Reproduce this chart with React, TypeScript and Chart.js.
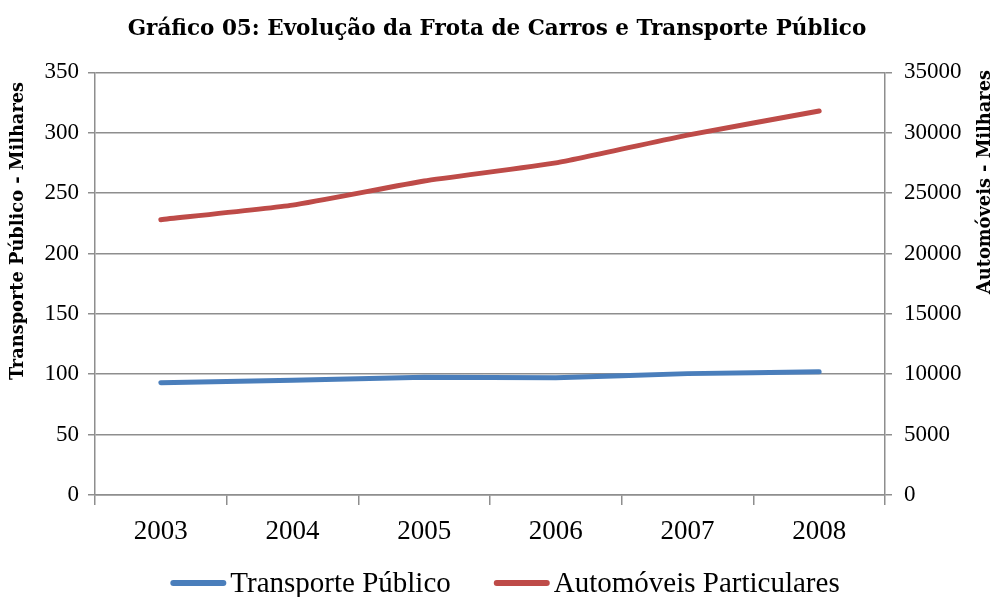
import React, { useEffect, useRef } from "react";
import { Chart, registerables } from "chart.js";

Chart.register(...registerables);

const years = ["2003", "2004", "2005", "2006", "2007", "2008"];
const transportePublico = [93, 95, 97.5, 97, 100.5, 102];
const automoveis = [22800, 24000, 26000, 27500, 29800, 31800];
const leftTicks = [0, 50, 100, 150, 200, 250, 300, 350];
const rightTicks = [0, 5000, 10000, 15000, 20000, 25000, 30000, 35000];
const leftTitle = "Transporte Público - Milhares";
const rightTitle = "Automóveis - Milhares";

const SERIF = "'Liberation Serif', 'DejaVu Serif', serif";
const BOLD = "'DejaVu Serif', 'Liberation Serif', serif";
const GRID = "#8e8e8e";

const axisTitles = {
  id: "axisTitles",
  afterDraw(chart: any) {
    const ctx = chart.ctx;
    const draw = (text: string, x: number, y: number) => {
      ctx.save();
      ctx.fillStyle = "#000";
      ctx.font = `bold 17.8px ${BOLD}`;
      ctx.textAlign = "center";
      ctx.textBaseline = "middle";
      ctx.translate(x, y);
      ctx.rotate(-Math.PI / 2);
      ctx.fillText(text, 0, 0);
      ctx.restore();
    };
    draw(leftTitle, 18, 231);
    draw(rightTitle, 985, 182);
  },
};

const customLegend = {
  id: "customLegend",
  afterDraw(chart: any) {
    const ctx = chart.ctx;
    ctx.save();
    ctx.font = `29px ${SERIF}`;
    const lineLen = 56;
    const gapText = 4;
    const gapItem = 43;
    const items = chart.data.datasets.map((d: any) => ({
      label: d.label,
      color: d.borderColor,
      w: lineLen + gapText + ctx.measureText(d.label).width,
    }));
    const total = items.reduce((s: number, it: any) => s + it.w, 0) + gapItem * (items.length - 1);
    let x = 505 - total / 2;
    const y = 583;
    items.forEach((it: any) => {
      ctx.strokeStyle = it.color;
      ctx.lineWidth = 6;
      ctx.lineCap = "round";
      ctx.beginPath();
      ctx.moveTo(x + 3, y);
      ctx.lineTo(x + lineLen - 3, y);
      ctx.stroke();
      ctx.fillStyle = "#000";
      ctx.textAlign = "left";
      ctx.textBaseline = "middle";
      ctx.fillText(it.label, x + lineLen + gapText, y + 1);
      x += it.w + gapItem;
    });
    ctx.restore();
  },
};

export default function App() {
  const ref = useRef<HTMLCanvasElement>(null);
  useEffect(() => {
    document.body.style.margin = "0";
    const ctx = ref.current!;
    const chart = new Chart(ctx, {
      type: "line",
      data: {
        labels: years,
        datasets: [
          {
            label: "Transporte Público",
            data: transportePublico,
            borderColor: "#4a7ebb",
            backgroundColor: "#4a7ebb",
            borderWidth: 5,
            pointRadius: 0,
            tension: 0.15,
            borderCapStyle: "round",
            yAxisID: "y",
          },
          {
            label: "Automóveis Particulares",
            data: automoveis,
            borderColor: "#be4b48",
            backgroundColor: "#be4b48",
            borderWidth: 5,
            pointRadius: 0,
            tension: 0.15,
            borderCapStyle: "round",
            yAxisID: "y1",
          },
        ],
      },
      plugins: [axisTitles, customLegend],
      options: {
        animation: false,
        responsive: false,
        maintainAspectRatio: false,
        layout: { padding: { top: 0, left: 0, right: 0, bottom: 30 } },
        plugins: {
          title: {
            display: true,
            text: "Gráfico 05: Evolução da Frota de Carros e Transporte Público",
            font: { family: BOLD, size: 21.5, weight: "bold" },
            color: "#000",
            padding: { top: 17, bottom: 29.5 },
          },
          legend: { display: false },
          tooltip: { enabled: false },
        },
        scales: {
          x: {
            offset: true,
            afterFit: (axis: any) => {
              axis.height = 72;
            },
            grid: {
              offset: true,
              drawOnChartArea: false,
              drawTicks: true,
              tickLength: 10,
              color: GRID,
              lineWidth: 1.5,
            },
            border: { color: GRID, width: 1.5 },
            ticks: { font: { family: SERIF, size: 27 }, color: "#000", padding: 11 },
          },
          y: {
            position: "left",
            min: 0,
            max: 350,
            afterFit: (axis: any) => {
              axis.width = 95;
            },
            afterBuildTicks: (axis: any) => {
              axis.ticks = leftTicks.map((v) => ({ value: v }));
            },
            grid: { color: GRID, lineWidth: 1.5, tickLength: 7 },
            border: { color: GRID, width: 1.5 },
            ticks: { font: { family: SERIF, size: 23 }, color: "#000", padding: 9 },
          },
          y1: {
            position: "right",
            min: 0,
            max: 35000,
            afterFit: (axis: any) => {
              axis.width = 109;
            },
            afterBuildTicks: (axis: any) => {
              axis.ticks = rightTicks.map((v) => ({ value: v }));
            },
            grid: { drawOnChartArea: false, color: GRID, lineWidth: 1.5, tickLength: 7 },
            border: { color: GRID, width: 1.5 },
            ticks: {
              font: { family: SERIF, size: 23 },
              color: "#000",
              padding: 12,
              callback: (v: any) => String(v),
            },
          },
        },
      },
    });
    return () => chart.destroy();
  }, []);
  return (
    <div style={{ width: 994, height: 597, position: "relative", background: "#fff" }}>
      <canvas ref={ref} width={994} height={597} style={{ display: "block" }} />
    </div>
  );
}
